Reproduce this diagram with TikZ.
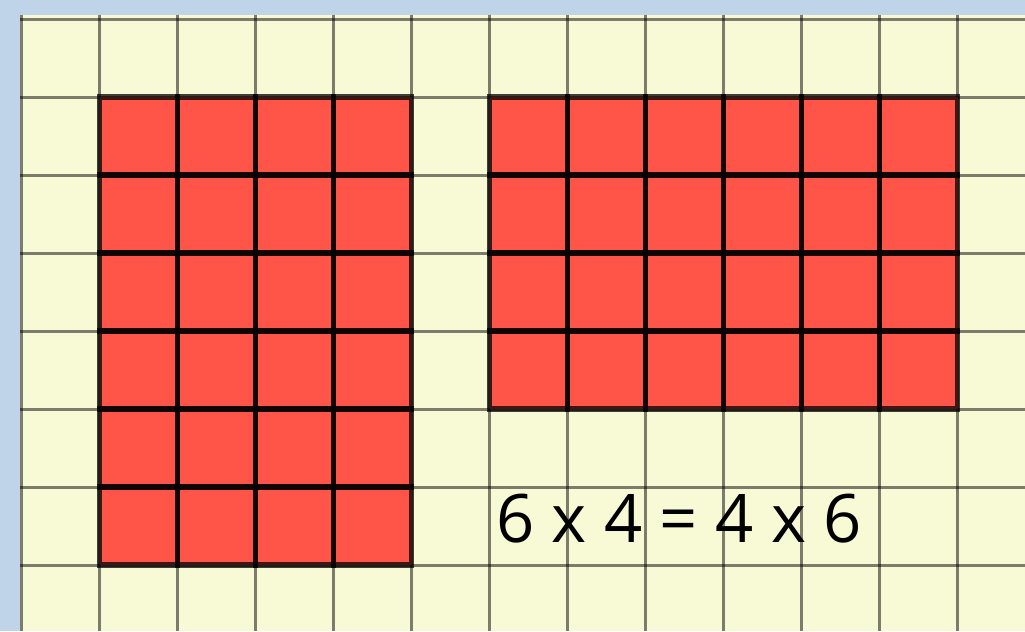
\documentclass[tikz,border=0pt]{standalone}
\usepackage{fontspec}
\setmainfont{Open Sans}
\usepackage{tikz}
\usetikzlibrary{positioning}
\definecolor{skyc}{HTML}{C0D4E9}
\definecolor{paperc}{HTML}{F8F9D5}
\definecolor{cellc}{HTML}{FF5549}
\tikzset{
  gridln/.style={draw=black,draw opacity=0.5,line width=1.1pt},
  cellbox/.style={draw=black,draw opacity=0.75,line width=2pt},
  eqn/.style={inner sep=0pt,font=\fontsize{24.4}{29}\selectfont}
}

\begin{document}
\begin{tikzpicture}
\useasboundingbox (-0.2756,-0.846) rectangle (12.865,7.244);
\fill[skyc] (-0.2756,-0.846) rectangle (12.865,7.244);
\fill[paperc] (-0.019,-0.846) rectangle (12.865,7.051);
% squared paper
\foreach \i in {0,...,12} \draw[gridln] (\i,-0.846) -- (\i,7.051);
\foreach \j in {-1,...,7} \draw[gridln] (-0.019,\j) -- (12.865,\j);
% 4 columns, 6 rows
\fill[cellc] (1,0) rectangle (5,6);
\foreach \i in {1,...,4}
  \foreach \j in {0,...,5}
    \draw[cellbox] (\i,\j) rectangle ++(1,1);
% 6 columns, 4 rows
\fill[cellc] (6,2) rectangle (12,6);
\foreach \i in {6,...,11}
  \foreach \j in {2,...,5}
    \draw[cellbox] (\i,\j) rectangle ++(1,1);
\node[eqn] (eqn) at (8.43,0.59) {6 x 4 = 4 x 6};
\end{tikzpicture}
\end{document}
